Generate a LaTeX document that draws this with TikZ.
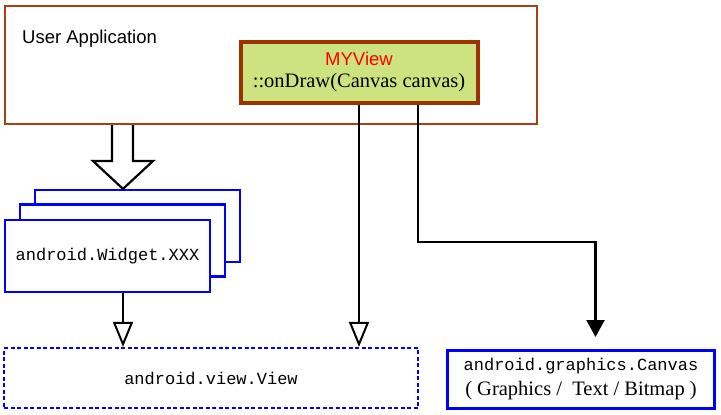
\documentclass[tikz,border=0pt]{standalone}
\usepackage{fontspec}
\setmainfont{Liberation Serif}
\setsansfont{Liberation Sans}
\setmonofont{Liberation Mono}
\usetikzlibrary{arrows.meta,calc}
\definecolor{appbrown}{RGB}{165,66,20}
\definecolor{viewbrown}{RGB}{153,51,0}
\definecolor{viewfill}{RGB}{204,227,128}
\definecolor{pureblue}{RGB}{0,0,255}
\tikzset{
  box/.style={draw, inner sep=0pt, anchor=center},
  widget/.style={box, draw=pureblue, line width=2.2pt, fill=white, minimum width=205pt, minimum height=72pt},
  conn/.style={draw=black, line width=2.2pt},
  hollow/.style={conn, -{Triangle[open, width=20pt, length=25pt, line width=2pt]}},
  solidtip/.style={conn, -{Triangle[width=18pt, length=17pt]}},
  monotext/.style={font=\ttfamily\fontsize{17}{20}\selectfont},
  lbl/.style={inner sep=0pt, anchor=center},
}
\begin{document}
\begin{tikzpicture}[x=1pt,y=-1pt]
\useasboundingbox (0,0) rectangle (721,415);
% User application box
\node[box, draw=appbrown, line width=2.2pt, minimum width=532pt, minimum height=118pt] (app) at (271,65) {};
\node[anchor=west, font=\sffamily\fontsize{18.5}{22}\selectfont, inner sep=0pt] (applabel) at (22,39) {User Application};
% MYView box
\node[box, draw=viewbrown, fill=viewfill, line width=4pt, minimum width=237pt, minimum height=61pt] (myview) at (359.5,72.5) {};
\node[lbl, text=red, font=\sffamily\fontsize{18.5}{22}\selectfont] (mvname) at (359,59) {MYView};
\node[lbl, font=\fontsize{20.5}{24}\selectfont] (mvdraw) at (359,83) {::onDraw(Canvas canvas)};
% stacked widget boxes
\node[widget] (wback) at (137.5,226) {};
\node[widget] (wmid) at (122.5,240.5) {};
\node[widget, monotext] (wfront) at (107.5,256) {android.Widget.XXX};
% view box
\node[box, draw=pureblue, line width=2.2pt, dash pattern=on 4pt off 2.5pt, minimum width=414pt, minimum height=60pt, monotext] (view) at (211,378) {android.view.View};
% canvas box
\node[box, draw=pureblue, line width=3pt, minimum width=267pt, minimum height=58pt] (canvas) at (581,379.5) {};
\node[lbl, monotext] (cvname) at (581,366) {android.graphics.Canvas};
\node[lbl, font=\fontsize{20.5}{24}\selectfont] (cvsub) at (581,391) {( Graphics /\ \ Text / Bitmap )};
% guide coordinates
\coordinate (cw) at (123,0);
\coordinate (cv) at (359,0);
\coordinate (cc) at (418,0);
\coordinate (cd) at (595.5,0);
\coordinate (elb) at (0,242);
% block arrow
\draw[line width=2.2pt, line join=miter] (app.south -| 112,0) -- (112,161) -- (93,161) -- (wback.north -| cw) -- (153,161) -- (133,161) -- (app.south -| 133,0);
% connectors
\draw[hollow] (wfront.south -| cw) -- (view.north -| cw);
\draw[hollow] (myview.south -| cv) -- (view.north -| cv);
\draw[solidtip, shorten >=12pt] (myview.south -| cc) -- (elb -| cc) -- (elb -| cd) -- (canvas.north -| cd);
\end{tikzpicture}
\end{document}
